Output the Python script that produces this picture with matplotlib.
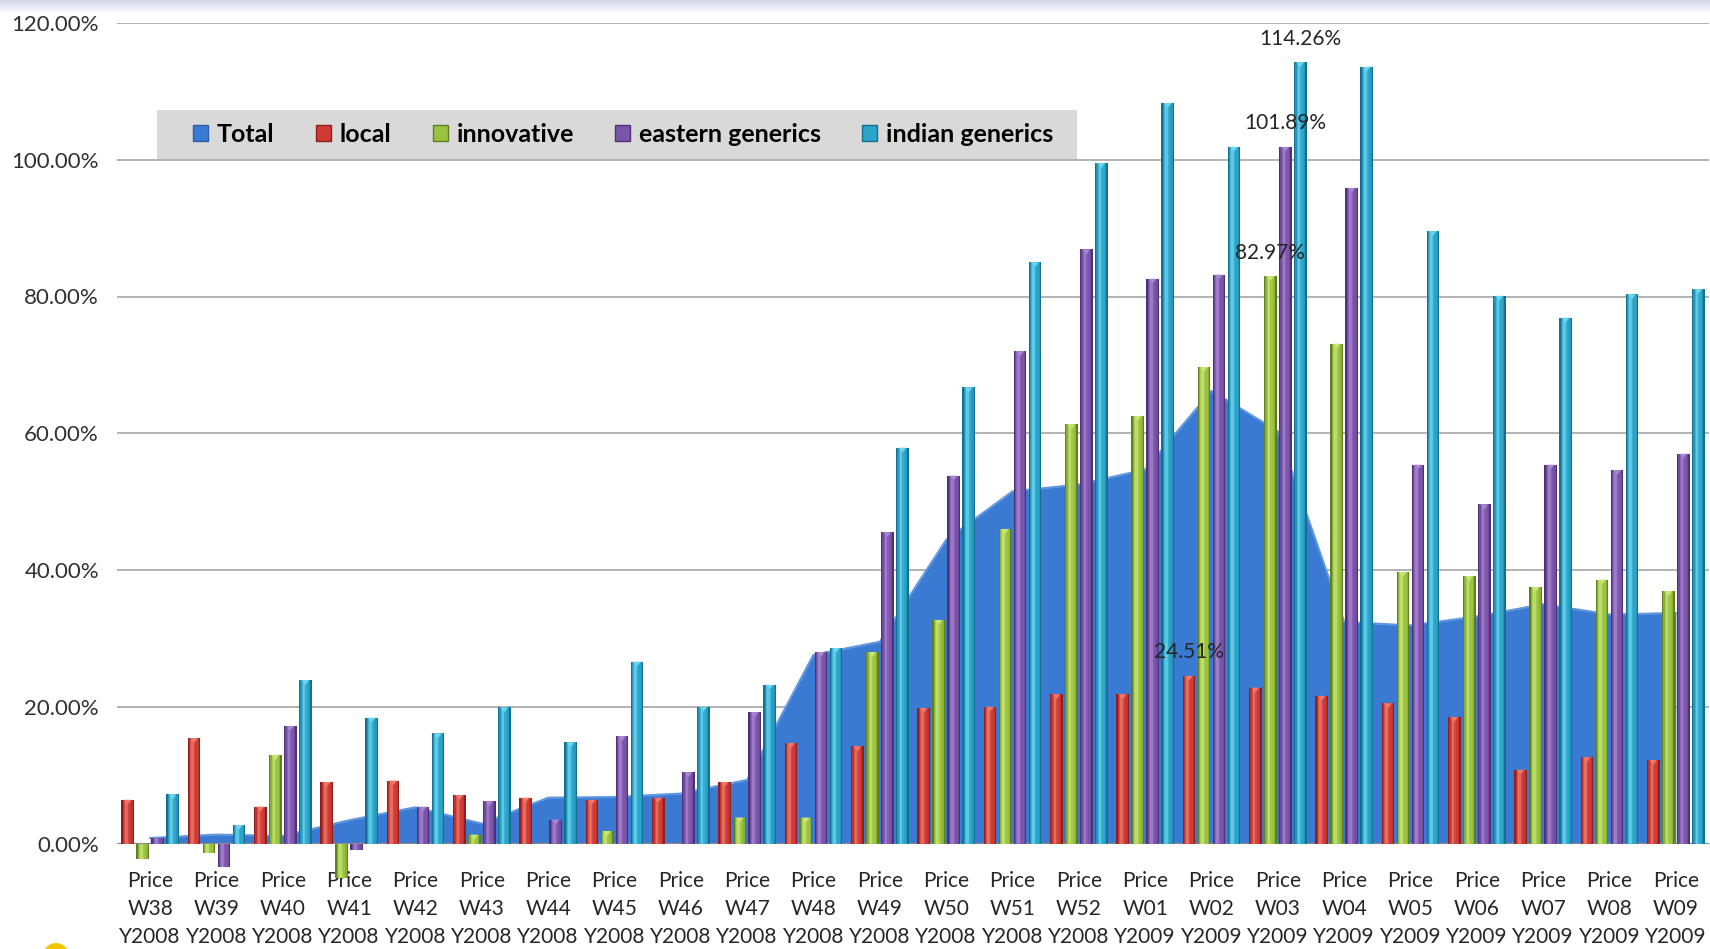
import numpy as np
import matplotlib
matplotlib.use('Agg')
from matplotlib import pyplot as plt
from matplotlib.colors import LinearSegmentedColormap
from matplotlib.patches import Patch, Polygon, Circle, Rectangle

plt.rcParams['font.family'] = ['Lato', 'DejaVu Sans']

# weekly price change vs. base, in percent
weeks = ['W38', 'W39', 'W40', 'W41', 'W42', 'W43', 'W44', 'W45', 'W46', 'W47',
         'W48', 'W49', 'W50', 'W51', 'W52', 'W01', 'W02', 'W03', 'W04', 'W05',
         'W06', 'W07', 'W08', 'W09']
years = ['Y2008'] * 15 + ['Y2009'] * 9

total = [0.8, 1.3, 1.1, 3.4, 5.3, 2.9, 6.7, 6.8, 7.3, 9.3, 27.6, 29.5, 44.4,
         51.5, 52.5, 54.7, 66.2, 60.3, 32.4, 31.9, 33.2, 35.0, 33.5, 33.7]
local = [6.4, 15.4, 5.4, 9.0, 9.2, 7.1, 6.7, 6.4, 6.7, 9.0, 14.7, 14.2, 19.8,
         20.0, 21.8, 21.8, 24.51, 22.8, 21.6, 20.5, 18.5, 10.8, 12.6, 12.2]
innovative = [-2.2, -1.4, 12.9, -5.1, np.nan, 1.3, np.nan, 1.8, np.nan, 3.8,
              3.8, 28.0, 32.7, 46.0, 61.3, 62.5, 69.7, 82.97, 73.1, 39.7, 39.1,
              37.5, 38.6, 36.9]
eastern = [0.8, -3.4, 17.2, -1.0, 5.4, 6.2, 3.5, 15.7, 10.4, 19.2, 28.0, 45.5,
           53.8, 72.0, 86.9, 82.6, 83.2, 101.89, 95.9, 55.4, 49.6, 55.4, 54.6,
           57.0]
indian = [7.2, 2.7, 23.9, 18.4, 16.1, 19.9, 14.8, 26.6, 20.0, 23.2, 28.6, 57.9,
          66.7, 85.0, 99.5, 108.3, 101.9, 114.26, 113.6, 89.6, 80.1, 76.9, 80.3,
          81.1]

# (dark, main, light) shades for the bevelled columns
series = [
    ('local', local, ('#8e1f1c', '#cf3a34', '#ec7a6c'), [16]),
    ('innovative', innovative, ('#5f7f22', '#9ac23e', '#c8e57a'), [17]),
    ('eastern generics', eastern, ('#4e3275', '#7c55aa', '#a886d2'), [17]),
    ('indian generics', indian, ('#15708f', '#2ba4c9', '#6fd4ee'), [17]),
]
total_color = '#3a7ad2'

W, H = 1710, 949
fig = plt.figure(figsize=(W / 100, H / 100), dpi=100)
fig.patch.set_facecolor('white')

# faint shadow band along the top edge
band = fig.add_axes([0, 1 - 14 / H, 1, 14 / H])
band.imshow(np.linspace(0, 1, 50).reshape(-1, 1), aspect='auto',
            cmap=LinearSegmentedColormap.from_list('b', ['#d3d5e8', '#ffffff']))
band.axis('off')

ax = fig.add_axes([117 / W, (H - 843.5) / H, (1709 - 117) / W, (843.5 - 23) / H])
x = np.arange(len(weeks))
ax.set_xlim(-0.5, len(weeks) - 0.5)
ax.set_ylim(0, 120)

# Total as an area behind the columns
ax.fill_between(x, 0, total, color=total_color, lw=0, zorder=1)
ax.plot(x, total, color='#5f96e0', lw=1.5, zorder=1.1)
ax.axhline(0, color='#8a8a8a', lw=1.6, zorder=1.5)

slot = 0.226
width = 0.19
nslice = 10
for i, (name, vals, (dark, main, light), labelled) in enumerate(series):
    vals = np.array(vals, dtype=float)
    xc = x + (i - 1.5) * slot
    cmap = LinearSegmentedColormap.from_list(
        name, [(0, dark), (0.15, main), (0.38, light), (0.6, main),
               (0.85, main), (1, dark)])
    left = xc - width / 2
    # horizontal gradient: stacked bars, each starting a bit further right
    for k in range(nslice):
        off = k * width / nslice
        ax.bar(left + off, np.nan_to_num(vals), width=width - off, align='edge',
               color=cmap(k / (nslice - 1)), lw=0, zorder=2, clip_on=False)
    # small bevel cap at the top of each positive column
    for xi, v in zip(xc, vals):
        if np.isfinite(v) and v > 1:
            ax.add_patch(Polygon([(xi - 0.3 * width, v), (xi + 0.3 * width, v),
                                  (xi, v - 0.7)], closed=True, color=light,
                                 lw=0, zorder=3))
    for j in labelled:
        ax.annotate(f'{vals[j]:.2f}%', (xc[j], vals[j]), xytext=(0, 17),
                    textcoords='offset points', ha='center', va='center',
                    fontsize=15, color='#262626', zorder=6)

ax.set_yticks(np.arange(0, 121, 20))
ax.set_yticklabels([f'{v:.2f}%' for v in np.arange(0, 121, 20)],
                   fontsize=16, color='#303030')
ax.set_xticks(x)
ax.set_xticklabels([f'Price\n{w}\n{y}' for w, y in zip(weeks, years)],
                   fontsize=15, color='#262626', linespacing=1.5)
ax.tick_params(axis='both', length=0)
ax.tick_params(axis='y', pad=13)
ax.tick_params(axis='x', pad=20)
ax.yaxis.grid(True, color='#a6a6a6', lw=1.2)
ax.set_axisbelow(True)
for s in ax.spines.values():
    s.set_visible(False)

# legend on a grey strip
fig.add_artist(Rectangle((157 / W, 1 - 159 / H), 920 / W, 49 / H,
                         transform=fig.transFigure, color='#d9d9d9', lw=0,
                         zorder=4))
handles = [Patch(facecolor=total_color, edgecolor='#2b5fa6')]
handles += [Patch(facecolor=c[1], edgecolor=c[0]) for _, _, c, _ in series]
labels = ['Total'] + [s[0] for s in series]
leg = fig.legend(handles, labels, loc='center',
                 bbox_to_anchor=((157 + 466) / W, 1 - 134.5 / H), ncol=5,
                 frameon=False, prop={'weight': 'bold', 'size': 18},
                 handlelength=0.6, handleheight=0.6, handletextpad=0.35,
                 columnspacing=1.65)
leg.set_zorder(5)

# decorative dot at the lower left corner
fig.add_artist(Circle((0.56, -0.07), 0.13, transform=fig.dpi_scale_trans,
                      color='#f5c400', lw=0))

fig.savefig('out.png', dpi=100)
